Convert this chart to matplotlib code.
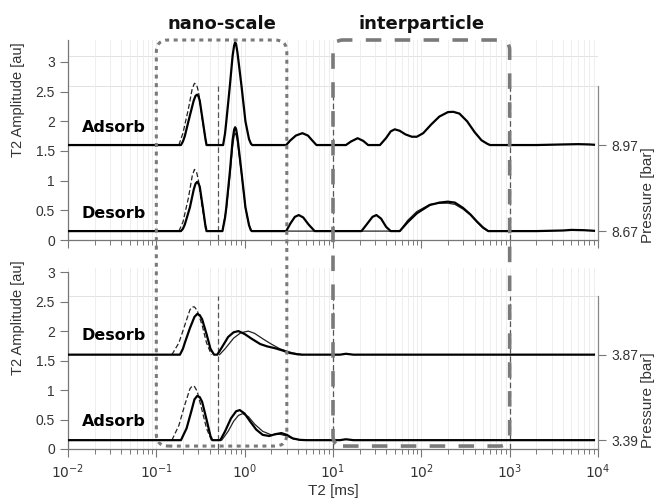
import matplotlib
matplotlib.use("Agg")
import matplotlib.pyplot as plt
import numpy as np
from matplotlib.patches import FancyBboxPatch
from matplotlib.ticker import FixedLocator, NullFormatter

plt.rcParams['font.family'] = ['Liberation Sans', 'DejaVu Sans']

# ---- data (T2 in ms, amplitude in au) ----
# top panel: Adsorb 8.97 bar (offset 1.6), Desorb 8.67 bar (offset 0.15)
ads_hi_t2 = [0.01, 0.19, 0.2, 0.21, 0.24, 0.265, 0.278, 0.29, 0.3, 0.31, 0.34, 0.36, 0.37,
             0.57, 0.6, 0.62, 0.68, 0.73, 0.76, 0.78, 0.8, 0.83, 0.92, 1.02, 1.12, 1.18, 1.22,
             2.95, 3.3, 3.8, 4.5, 5.2, 5.8, 6.5, 14, 16, 19, 22, 25, 34, 40, 45, 50, 57, 66, 78,
             89, 105, 130, 160, 200, 230, 270, 330, 400, 480, 560, 600, 2000, 4000, 6000, 8000, 9000]
ads_hi_amp = [1.6, 1.6, 1.66, 1.75, 2.1, 2.35, 2.43, 2.45, 2.42, 2.35, 1.95, 1.7, 1.6,
              1.6, 1.8, 2.0, 2.6, 3.1, 3.28, 3.33, 3.3, 3.15, 2.6, 2.0, 1.7, 1.62, 1.6,
              1.6, 1.68, 1.76, 1.8, 1.76, 1.68, 1.6, 1.6, 1.66, 1.715, 1.67, 1.6, 1.6, 1.72, 1.83, 1.865, 1.84, 1.78, 1.74,
              1.74, 1.8, 1.95, 2.08, 2.155, 2.16, 2.13, 2.0, 1.82, 1.68, 1.62, 1.6, 1.6, 1.61, 1.615, 1.61, 1.605]
ads_hi_dash_t2 = [0.18, 0.2, 0.23, 0.255, 0.27, 0.285, 0.3, 0.33, 0.36, 0.38]
ads_hi_dash_amp = [1.6, 1.8, 2.2, 2.55, 2.64, 2.62, 2.5, 2.05, 1.7, 1.6]

des_hi_t2 = [0.01, 0.19, 0.2, 0.21, 0.24, 0.265, 0.278, 0.29, 0.3, 0.31, 0.34, 0.36, 0.37,
             0.56, 0.6, 0.62, 0.68, 0.73, 0.76, 0.78, 0.8, 0.83, 0.92, 1.02, 1.12, 1.17, 1.2,
             2.95, 3.3, 3.7, 4.1, 4.6, 5.3, 6.2, 21, 24, 28, 31, 35, 40, 45, 57, 70, 89, 125,
             160, 200, 240, 297, 360, 427, 500, 572, 2000, 4000, 5000, 7000, 9000]
des_hi_amp = [0.15, 0.15, 0.19, 0.26, 0.55, 0.85, 0.95, 0.98, 0.95, 0.9, 0.5, 0.23, 0.15,
              0.15, 0.38, 0.55, 1.15, 1.68, 1.86, 1.9, 1.87, 1.72, 1.15, 0.55, 0.25, 0.17, 0.15,
              0.15, 0.28, 0.39, 0.42, 0.38, 0.26, 0.15, 0.15, 0.26, 0.39, 0.42, 0.36, 0.22, 0.15, 0.15, 0.3, 0.45, 0.59,
              0.63, 0.646, 0.63, 0.54, 0.43, 0.31, 0.21, 0.15, 0.15, 0.16, 0.17, 0.165, 0.155]
des_hi_dash_t2 = [0.18, 0.2, 0.23, 0.255, 0.27, 0.285, 0.3, 0.33, 0.36, 0.38]
des_hi_dash_amp = [0.15, 0.3, 0.7, 1.08, 1.19, 1.15, 1.0, 0.55, 0.25, 0.15]
des_hi_thin_t2 = [0.56, 0.62, 0.68, 0.73, 0.76, 0.78, 0.8, 0.83, 0.92, 1.02, 1.12, 1.2, 57, 70, 89,
                  125, 160, 200, 240, 297, 360, 427, 500, 572]
des_hi_thin_amp = [0.15, 0.52, 1.08, 1.58, 1.76, 1.8, 1.77, 1.66, 1.12, 0.55, 0.25, 0.15, 0.15, 0.33, 0.48,
                   0.6, 0.62, 0.62, 0.6, 0.52, 0.42, 0.3, 0.2, 0.15]

# bottom panel: Desorb 3.87 bar (offset 1.6), Adsorb 3.39 bar (offset 0.15)
des_lo_t2 = [0.01, 0.185, 0.2, 0.21, 0.24, 0.27, 0.29, 0.31, 0.33, 0.37, 0.41, 0.45, 0.49, 0.55, 0.65,
             0.75, 0.85, 1.0, 1.2, 1.5, 1.8, 2.2, 2.7, 3.2, 4.0, 4.5, 12, 14, 17, 9000]
des_lo_amp = [1.6, 1.6, 1.7, 1.8, 2.05, 2.24, 2.29, 2.27, 2.2, 1.95, 1.7, 1.6, 1.6, 1.72, 1.9,
              1.98, 2.0, 1.95, 1.87, 1.78, 1.74, 1.71, 1.67, 1.63, 1.605, 1.6, 1.6, 1.615, 1.6, 1.6]
des_lo_dash_t2 = [0.15, 0.18, 0.21, 0.24, 0.255, 0.27, 0.29, 0.33, 0.37, 0.42]
des_lo_dash_amp = [1.6, 1.8, 2.1, 2.36, 2.41, 2.41, 2.35, 2.1, 1.8, 1.6]
des_lo_thin_t2 = [0.52, 0.6, 0.75, 0.9, 1.1, 1.3, 1.6, 2.0, 2.5, 3.0, 3.5, 4.5]
des_lo_thin_amp = [1.6, 1.7, 1.88, 1.97, 2.0, 1.96, 1.87, 1.78, 1.7, 1.66, 1.63, 1.6]

ads_lo_t2 = [0.01, 0.19, 0.22, 0.25, 0.27, 0.29, 0.31, 0.33, 0.37, 0.41, 0.43, 0.53, 0.6, 0.7,
             0.8, 0.88, 1.0, 1.15, 1.35, 1.6, 1.9, 2.2, 2.6, 3.0, 3.5, 4.2, 5.0, 12, 14, 17, 9000]
ads_lo_amp = [0.15, 0.15, 0.35, 0.65, 0.84, 0.9, 0.88, 0.8, 0.5, 0.22, 0.15, 0.15, 0.3, 0.52,
              0.64, 0.66, 0.6, 0.47, 0.33, 0.24, 0.22, 0.25, 0.27, 0.24, 0.18, 0.155, 0.15, 0.15, 0.165, 0.15, 0.15]
ads_lo_dash_t2 = [0.15, 0.18, 0.21, 0.24, 0.255, 0.27, 0.29, 0.33, 0.37, 0.42]
ads_lo_dash_amp = [0.15, 0.4, 0.75, 1.02, 1.07, 1.06, 0.98, 0.65, 0.35, 0.15]
ads_lo_thin_t2 = [0.55, 0.65, 0.75, 0.85, 0.95, 1.1, 1.3, 1.6, 2.0, 2.5, 3.0, 3.6, 4.5]
ads_lo_thin_amp = [0.15, 0.3, 0.47, 0.57, 0.6, 0.55, 0.42, 0.3, 0.24, 0.25, 0.22, 0.17, 0.15]

top_names = ["Adsorb", "Desorb"]
top_pressure = ["8.97", "8.67"]
bot_names = ["Desorb", "Adsorb"]
bot_pressure = ["3.87", "3.39"]
decades = [-2, -1, 0, 1, 2, 3, 4]
guide_t2 = [0.5, 10, 1000]   # thin dashed markers

GREY = "#7a7a7a"
TXT = "#333333"

fig = plt.figure(figsize=(6.64, 5.03), dpi=100)
W, H = 664, 503
ax_top = fig.add_axes([68 / W, (H - 240) / H, 530 / W, 200 / H])
ax_bot = fig.add_axes([68 / W, (H - 449) / H, 530 / W, 181 / H])

major = [10.0 ** d for d in decades]
minor = [m * 10.0 ** d for d in decades[:-1] for m in range(2, 10)]


def setup(ax, ytop, show_x):
    ax.set_xscale("log")
    ax.set_xlim(1e-2, 1e4)
    ax.set_ylim(0, ytop)
    ax.xaxis.set_major_locator(FixedLocator(major))
    ax.xaxis.set_minor_locator(FixedLocator(minor))
    ax.xaxis.set_minor_formatter(NullFormatter())
    if show_x:
        ax.set_xticklabels([f"$10^{{{d}}}$" for d in decades])
    else:
        ax.xaxis.set_major_formatter(NullFormatter())
    ax.set_yticks(np.arange(0, 3.01, 0.5))
    ax.set_yticklabels(["0", "0.5", "1", "1.5", "2", "2.5", "3"])
    ax.grid(True, which="both", axis="x", color="#ebebeb", lw=0.6)
    ax.axhline(2.6, color="#e2e2e2", lw=0.7, zorder=0)
    for s in ["top", "right"]:
        ax.spines[s].set_visible(False)
    for s in ["left", "bottom"]:
        ax.spines[s].set_color("#777777")
        ax.spines[s].set_linewidth(0.9)
    ax.spines["left"].set_bounds(0, 3.0 if ytop < 3.2 else ytop)
    ax.tick_params(which="major", direction="out", length=6, width=0.8, color="#777777",
                   labelsize=10, labelcolor=TXT)
    ax.tick_params(which="minor", direction="out", length=3.5, width=0.7, color="#777777")
    for g in guide_t2:
        ax.plot([g, g], [0, 2.6], color="#555555", lw=0.9, dashes=(4.5, 2.5), zorder=2)


def pressure_axis(ax, ytop, ticks, labels):
    ax2 = ax.twinx()
    ax2.set_ylim(0, ytop)
    ax2.set_yticks(ticks)
    ax2.set_yticklabels(labels)
    for s in ["top", "left", "bottom"]:
        ax2.spines[s].set_visible(False)
    ax2.spines["right"].set_bounds(0, 2.6)
    ax2.spines["right"].set_color("#888888")
    ax2.spines["right"].set_linewidth(0.9)
    ax2.tick_params(direction="out", length=6, width=0.8, color="#777777",
                    labelsize=10, labelcolor=TXT)


# top panel
setup(ax_top, 3.37, False)
ax_top.axhline(3.1, color="#e2e2e2", lw=0.7, zorder=0)
ax_top.plot(ads_hi_t2, ads_hi_amp, color="black", lw=1.6, zorder=4)
ax_top.plot(ads_hi_dash_t2, ads_hi_dash_amp, color="#222222", lw=0.9, dashes=(4, 2), zorder=3)
ax_top.plot(des_hi_t2, des_hi_amp, color="black", lw=1.6, zorder=4)
ax_top.plot(des_hi_thin_t2, des_hi_thin_amp, color="#222222", lw=0.9, zorder=3)
ax_top.plot(des_hi_dash_t2, des_hi_dash_amp, color="#222222", lw=0.9, dashes=(4, 2), zorder=3)
pressure_axis(ax_top, 3.37, [ads_hi_amp[0], des_hi_amp[0]], top_pressure)
ax_top.text(0.0143, 1.9, top_names[0], fontsize=11.5, fontweight="bold",
            family="DejaVu Sans", va="center", ha="left", zorder=5)
ax_top.text(0.0143, 0.45, top_names[1], fontsize=11.5, fontweight="bold",
            family="DejaVu Sans", va="center", ha="left", zorder=5)

# bottom panel
setup(ax_bot, 3.07, True)
ax_bot.plot(des_lo_t2, des_lo_amp, color="black", lw=1.6, zorder=4)
ax_bot.plot(des_lo_thin_t2, des_lo_thin_amp, color="#222222", lw=0.9, zorder=3)
ax_bot.plot(des_lo_dash_t2, des_lo_dash_amp, color="#222222", lw=0.9, dashes=(4, 2), zorder=3)
ax_bot.plot(ads_lo_t2, ads_lo_amp, color="black", lw=1.6, zorder=4)
ax_bot.plot(ads_lo_thin_t2, ads_lo_thin_amp, color="#222222", lw=0.9, zorder=3)
ax_bot.plot(ads_lo_dash_t2, ads_lo_dash_amp, color="#222222", lw=0.9, dashes=(4, 2), zorder=3)
pressure_axis(ax_bot, 3.07, [des_lo_amp[0], ads_lo_amp[0]], bot_pressure)
ax_bot.text(0.0143, 1.92, bot_names[0], fontsize=11.5, fontweight="bold",
            family="DejaVu Sans", va="center", ha="left", zorder=5)
ax_bot.text(0.0143, 0.46, bot_names[1], fontsize=11.5, fontweight="bold",
            family="DejaVu Sans", va="center", ha="left", zorder=5)
ax_bot.set_xlabel("T2 [ms]", fontsize=11, color=TXT, labelpad=2)

# axis titles placed like the original
for yc in [100, 318]:
    fig.text(18 / W, 1 - yc / H, "T2 Amplitude [au]", rotation=90, ha="center", va="center",
             fontsize=10.5, color=TXT)
for yc in [195, 400]:
    fig.text(648 / W, 1 - yc / H, "Pressure [bar]", rotation=90, ha="center", va="center",
             fontsize=11, color=TXT)


# region boxes spanning both panels (drawn in inches)
def region_box(x0, x1, style, lw, rad):
    dpi = fig.dpi
    left = ax_top.transData.transform((x0, 0))[0] / dpi
    right = ax_top.transData.transform((x1, 0))[0] / dpi
    top = ax_top.transData.transform((1e-2, 3.37))[1] / dpi
    bottom = ax_bot.transData.transform((1e-2, 0.05))[1] / dpi
    box = FancyBboxPatch((left, bottom), right - left, top - bottom,
                         boxstyle=f"round,pad=0,rounding_size={rad}",
                         transform=fig.dpi_scale_trans, fill=False,
                         edgecolor=GREY, lw=lw, zorder=6)
    box.set_linestyle(style)
    fig.add_artist(box)
    return (left + right) / 2 * dpi


cx = region_box(0.1, 3.0, (0, (1.3, 1.5)), 2.2, 0.12)
fig.text(cx / W, 1 - 24 / H, "nano-scale", ha="center", va="center", fontsize=13,
         fontweight="bold", family="DejaVu Sans", color="#111111")
cx = region_box(10, 1000, (0, (4.3, 3.7)), 2.6, 0.1)
fig.text(cx / W, 1 - 24 / H, "interparticle", ha="center", va="center", fontsize=13,
         fontweight="bold", family="DejaVu Sans", color="#111111")

fig.savefig("out.png", dpi=100)
